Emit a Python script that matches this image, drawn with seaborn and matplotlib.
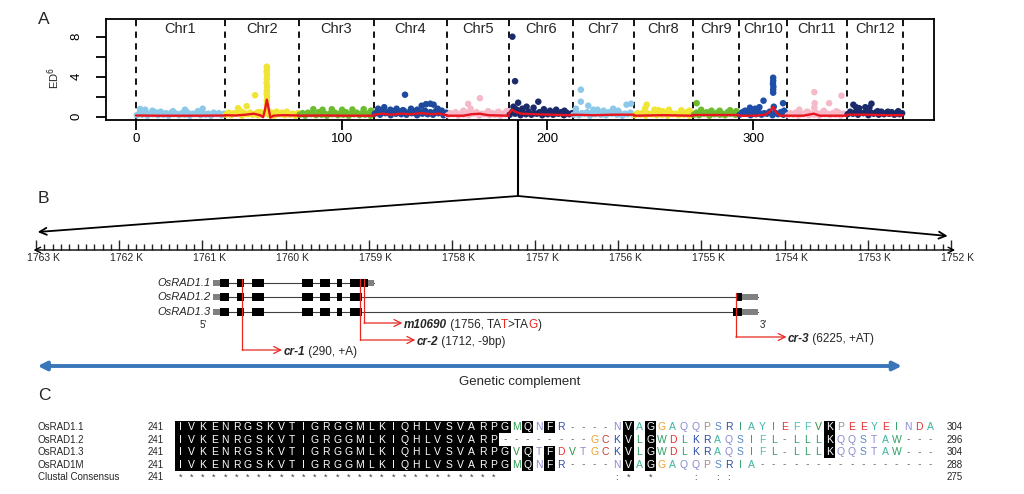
import matplotlib
matplotlib.use("Agg")
import matplotlib.pyplot as plt
import matplotlib.transforms as mtransforms
from matplotlib.patches import Rectangle
from matplotlib.ticker import MultipleLocator
import numpy as np
import pandas as pd
import seaborn as sns

# ---------------- Panel A data (ED^6 along the genome, Mb) ----------------
CHR_NAMES = [f"Chr{i}" for i in range(1, 13)]
CHR_LEN = [43.3, 35.9, 36.5, 35.5, 30.1, 31.1, 29.7, 28.7, 22.3, 23.4, 29.1, 27.3]
CHR_COLORS = ["#8CC8E8", "#F0E434", "#6CBC2E", "#1E4A9E", "#F5B9C8", "#1B2A6A",
              "#8CC8E8", "#F0E434", "#6CBC2E", "#1E4EA8", "#F5B9C8", "#1B2A6A"]

# dense background band of each chromosome (evenly spread along it)
BAND_VALUES = [
    [0.15, 0.35, 0.2, 0.4, 0.1, 0.3, 0.25, 0.45, 0.15, 0.3, 0.2, 0.35, 0.1, 0.4, 0.25, 0.3, 0.15,
     0.35, 0.2, 0.45, 0.1, 0.3, 0.25, 0.4, 0.15, 0.35, 0.2, 0.3, 0.1, 0.4, 0.25, 0.35, 0.15, 0.3],
    [0.2, 0.4, 0.15, 0.35, 0.3, 0.45, 0.1, 0.35, 0.25, 0.4, 0.2, 0.3, 0.15, 0.45, 0.3, 0.35, 0.2,
     0.4, 0.1, 0.3, 0.25, 0.4, 0.15, 0.35, 0.2, 0.3, 0.1, 0.35],
    [0.2, 0.35, 0.1, 0.4, 0.25, 0.3, 0.15, 0.45, 0.2, 0.35, 0.1, 0.3, 0.25, 0.4, 0.15, 0.35, 0.2,
     0.45, 0.1, 0.3, 0.25, 0.4, 0.15, 0.35, 0.2, 0.3, 0.1, 0.4],
    [0.3, 0.5, 0.2, 0.6, 0.35, 0.45, 0.15, 0.55, 0.3, 0.5, 0.25, 0.6, 0.2, 0.45, 0.35, 0.55, 0.15,
     0.5, 0.3, 0.6, 0.25, 0.45, 0.2, 0.55, 0.35, 0.5, 0.15, 0.4],
    [0.15, 0.35, 0.25, 0.45, 0.1, 0.3, 0.2, 0.4, 0.15, 0.35, 0.3, 0.45, 0.1, 0.3, 0.25, 0.4, 0.15,
     0.35, 0.2, 0.45, 0.1, 0.3, 0.25, 0.35],
    [0.2, 0.5, 0.3, 0.45, 0.15, 0.4, 0.25, 0.5, 0.2, 0.35, 0.3, 0.45, 0.15, 0.4, 0.25, 0.5, 0.2,
     0.35, 0.3, 0.45, 0.15, 0.4, 0.25, 0.35],
    [0.2, 0.4, 0.15, 0.35, 0.3, 0.45, 0.1, 0.35, 0.25, 0.4, 0.2, 0.3, 0.15, 0.45, 0.3, 0.35, 0.2,
     0.4, 0.1, 0.3, 0.25, 0.4, 0.2],
    [0.15, 0.35, 0.2, 0.4, 0.1, 0.3, 0.25, 0.45, 0.15, 0.3, 0.2, 0.35, 0.1, 0.4, 0.25, 0.3, 0.15,
     0.35, 0.2, 0.45, 0.1, 0.3],
    [0.2, 0.4, 0.15, 0.35, 0.3, 0.45, 0.1, 0.35, 0.25, 0.4, 0.2, 0.3, 0.15, 0.45, 0.3, 0.35, 0.2, 0.4],
    [0.2, 0.45, 0.3, 0.5, 0.15, 0.4, 0.25, 0.45, 0.2, 0.35, 0.3, 0.5, 0.15, 0.4, 0.25, 0.45, 0.2, 0.35],
    [0.15, 0.35, 0.2, 0.4, 0.1, 0.3, 0.25, 0.45, 0.15, 0.3, 0.2, 0.35, 0.1, 0.4, 0.25, 0.3, 0.15,
     0.35, 0.2, 0.45, 0.1, 0.3, 0.25],
    [0.25, 0.5, 0.3, 0.45, 0.2, 0.4, 0.35, 0.5, 0.15, 0.4, 0.3, 0.45, 0.2, 0.5, 0.25, 0.4, 0.3,
     0.45, 0.2, 0.4, 0.25, 0.35],
]

# points standing out of the band: (position in chromosome, ED^6)
OUTLIERS = [
    [(2, 0.78), (4.5, 0.7), (8, 0.6), (12, 0.5), (18, 0.55), (23.8, 0.7), (30, 0.55), (32.4, 0.8)],
    [(6.3, 0.85), (10.5, 1.05), (14.6, 2.15), (20.3, 5.0), (20.4, 4.8), (20.2, 4.5), (20.4, 4.2),
     (20.3, 3.8), (20.2, 3.4), (20.4, 3.0), (20.3, 2.6), (20.2, 2.3), (20.4, 2.0), (20.3, 1.6),
     (20.3, 1.2), (20.4, 0.8), (8, 0.5), (16, 0.45), (25, 0.5), (30, 0.5)],
    [(7, 0.75), (11.5, 0.7), (16, 0.75), (21, 0.7), (26, 0.72), (31.5, 0.75), (35, 0.6)],
    [(15.1, 2.2), (23.2, 1.1), (25.3, 1.25), (27.4, 1.3), (29.0, 1.2), (2, 0.8),
     (5, 0.95), (8, 0.7), (11, 0.8), (14, 0.65), (18, 0.8), (21, 0.7), (31, 0.8), (33, 0.6)],
    [(16, 1.85), (10.3, 1.28), (11.5, 0.8), (8, 0.6), (20, 0.55), (25, 0.5), (29, 0.55)],
    [(1.7, 8.0), (3.0, 3.55), (4.5, 1.4), (8.6, 1.0), (14.3, 1.5), (6.5, 0.8), (12, 0.9), (17, 0.75),
     (20, 0.6), (23, 0.7), (27, 0.6), (2.2, 1.0), (3.5, 0.75)],
    [(3.9, 2.7), (3.9, 1.5), (7.5, 1.1), (19.6, 0.8), (26.1, 1.2), (28.3, 1.3), (10, 0.7), (12, 0.7),
     (15, 0.6), (22, 0.6), (1.5, 0.8)],
    [(6.2, 1.2), (5.5, 0.85), (10, 0.7), (12, 0.65), (17, 0.7), (23, 0.65), (27, 0.6), (14, 0.55)],
    [(1.8, 1.35), (4, 0.7), (9, 0.6), (13, 0.6), (18, 0.65), (21, 0.55)],
    [(16.7, 3.9), (16.7, 3.6), (16.6, 3.3), (16.8, 3.0), (16.7, 2.7), (16.7, 2.4), (12, 1.6),
     (21.5, 1.35), (5.4, 0.9), (8, 0.8), (10, 0.95), (3, 0.6), (17, 1.0), (22, 0.6)],
    [(13.3, 2.45), (26.5, 2.1), (13.5, 1.35), (20.5, 1.35), (18, 0.6), (6, 0.7), (13.3, 0.9),
     (10, 0.5), (24, 0.55)],
    [(3.2, 1.2), (12, 1.3), (6, 0.85), (9, 0.95), (4.5, 0.95), (11, 0.9), (15, 0.55), (20, 0.5),
     (25, 0.55)],
]

# smoothed fit (red line): (position in chromosome, value)
FIT = [
    [(0, 0.12), (10, 0.1), (20, 0.1), (30, 0.1), (43.3, 0.12)],
    [(0, 0.15), (5, 0.12), (10, 0.2), (14, 0.3), (17, 0.15), (18.5, -0.05), (19.5, 0.8),
     (20.3, 1.7), (21.2, 0.8), (22, -0.1), (23.5, 0.1), (28, 0.15), (35.9, 0.12)],
    [(0, 0.1), (12, 0.12), (24, 0.1), (36.5, 0.1)],
    [(0, 0.2), (4, 0.3), (8, 0.2), (13, 0.3), (18, 0.25), (23, 0.35), (28, 0.25), (32, 0.3), (35.5, 0.15)],
    [(0, 0.1), (8, 0.1), (12, 0.25), (16, 0.3), (20, 0.15), (30.1, 0.1)],
    [(0, 0.3), (1.5, 0.7), (3, 0.5), (6, 0.3), (12, 0.25), (20, 0.2), (31.1, 0.15)],
    [(0, 0.2), (10, 0.15), (20, 0.2), (29.7, 0.2)],
    [(0, 0.1), (14, 0.15), (28.7, 0.1)],
    [(0, 0.15), (11, 0.15), (22.3, 0.15)],
    [(0, 0.1), (8, 0.1), (13, 0.2), (15, 0.5), (16.7, 1.0), (18.2, 0.4), (20, 0.1), (23.4, 0.1)],
    [(0, 0.1), (8, 0.1), (13, 0.3), (16, 0.1), (29.1, 0.1)],
    [(0, 0.2), (10, 0.2), (20, 0.15), (27.3, 0.15)],
]
ZOOM_POS = 185.7  # genome position expanded in panel B

# ---------------- Panel B data (gene model, kb / bp) ----------------
SCALE_KB = list(range(1763, 1751, -1))
GENE_START_KB = 1760.812
ISOFORMS = ["OsRAD1.1", "OsRAD1.2", "OsRAD1.3"]
ISO_EXONS = [
    [(24, 132), (228, 313), (409, 553), (1010, 1142), (1226, 1346), (1430, 1490), (1587, 1803)],
    [(24, 132), (228, 313), (409, 553), (1010, 1142), (1226, 1346), (1430, 1490), (1587, 1731), (6226, 6298)],
    [(24, 132), (228, 313), (409, 553), (1010, 1142), (1226, 1346), (1430, 1490), (1587, 1731), (6190, 6298)],
]
ISO_UTRS = [
    [(-60, 24), (1803, 1875)],
    [(-60, 24), (6298, 6490)],
    [(-60, 24), (6298, 6490)],
]
MUT_NAMES = ["cr-1", "m10690", "cr-2", "cr-3"]
MUT_BP = [290, 1756, 1712, 6225]
MUT_INFO = [" (290, +A)", " (1756, TAT>TAG)", " (1712, -9bp)", " (6225, +AT)"]
COMPLEMENT_KB = (1762.98, 1752.59)

# ---------------- Panel C data (protein alignment) ----------------
SEQ_NAMES = ["OsRAD1.1", "OsRAD1.2", "OsRAD1.3", "OsRAD1M"]
SEQS = [
    "IVKENRGSKVTIGRGGMLKIQHLVSVARPGMQNFR----NVAGGAQQPSRIAYIEFFVKPEEYEINDA",
    "IVKENRGSKVTIGRGGMLKIQHLVSVARP--------GCKVLGWDLKRAQSIFL-LLLKQQSTAW---",
    "IVKENRGSKVTIGRGGMLKIQHLVSVARPGVQTFDVTGCKVLGWDLKRAQSIFL-LLLKQQSTAW---",
    "IVKENRGSKVTIGRGGMLKIQHLVSVARPGMQNFR----NVAGGAQQPSRIA----------------",
]
CONSENSUS = "*" * 29 + " " * 10 + ":* *   : ::" + " " * 18
SEQ_START = [241, 241, 241, 241, 241]
SEQ_END = [304, 296, 304, 288, 275]
RES_COLORS = {
    "A": "#3DB39E", "G": "#EFA030", "Q": "#8A8AD0", "N": "#8A8AD0", "T": "#8A8AD0",
    "P": "#A08E84", "S": "#5A8AC6", "R": "#2A4CA8", "K": "#2A4CA8", "H": "#5A8AC6",
    "I": "#2E9E62", "L": "#2E9E62", "V": "#2E8B45", "M": "#2E9E4E", "W": "#2E9E62",
    "Y": "#3CB8A8", "F": "#4DBFB0", "E": "#E43030", "D": "#E43030", "C": "#C8383A",
    "-": "#707070",
}

sns.set_style("white")
plt.rcParams["font.family"] = ["Liberation Sans", "DejaVu Sans"]

W, H = 1024, 494
fig = plt.figure(figsize=(W / 100, H / 100), dpi=100)

# overlay in pixel coordinates for connectors and panel C
ov = fig.add_axes([0, 0, 1, 1])
ov.set_xlim(0, W)
ov.set_ylim(H, 0)
ov.axis("off")


def px_axes(left, top, right, bottom):
    return fig.add_axes([left / W, 1 - bottom / H, (right - left) / W, (bottom - top) / H])


def rich_text(ax, x, y, parts, **kw):
    renderer = fig.canvas.get_renderer()
    tr = ax.transData
    for s, props in parts:
        t = ax.text(x, y, s, transform=tr, **{**kw, **props})
        w = t.get_window_extent(renderer=renderer).width
        tr = mtransforms.offset_copy(t.get_transform(), x=w, units="dots")


# ---------------- Panel A ----------------
ax_a = px_axes(106, 19, 934, 120)
chr_start = np.concatenate([[0], np.cumsum(CHR_LEN)[:-1]])
chr_end = np.cumsum(CHR_LEN)

rows = []
fit_rows = []
for i, name in enumerate(CHR_NAMES):
    pos = np.linspace(0.4, CHR_LEN[i] - 0.4, len(BAND_VALUES[i]))
    for p, v in zip(pos, BAND_VALUES[i]):
        rows.append((name, chr_start[i] + p, v))
    for p, v in OUTLIERS[i]:
        rows.append((name, chr_start[i] + p, v))
    for p, v in FIT[i]:
        fit_rows.append((name, chr_start[i] + p, v))
df = pd.DataFrame(rows, columns=["chrom", "pos", "ed"])
df_fit = pd.DataFrame(fit_rows, columns=["chrom", "pos", "fit"])

sns.scatterplot(data=df, x="pos", y="ed", hue="chrom", palette=dict(zip(CHR_NAMES, CHR_COLORS)),
                s=22, linewidth=0, legend=False, ax=ax_a, zorder=2)
sns.lineplot(data=df_fit, x="pos", y="fit", units="chrom", estimator=None, sort=False,
             color="#E8141E", lw=1.7, ax=ax_a, zorder=3)

for b in np.concatenate([[0], chr_end]):
    ax_a.axvline(b, color="black", lw=1.3, ls=(0, (3.5, 3)), zorder=1)
lab_tr = mtransforms.blended_transform_factory(ax_a.transData, ax_a.transAxes)
for i, name in enumerate(CHR_NAMES):
    ax_a.text((chr_start[i] + chr_end[i]) / 2, 0.9, name, transform=lab_tr,
              ha="center", va="center", fontsize=10.5)

ax_a.set_xlim(-14.6, 388)
ax_a.set_ylim(-0.33, 9.77)
ax_a.set_xticks([0, 100, 200, 300])
ax_a.set_yticks([0, 2, 4, 6, 8])
ax_a.set_yticklabels(["0", "", "4", "", "8"], rotation=90, va="center")
ax_a.tick_params(axis="both", direction="out", length=7, width=1.3, labelsize=9.5,
                 left=True, bottom=True, colors="black")
ax_a.tick_params(axis="y", pad=10)
ax_a.tick_params(axis="x", pad=2)
ax_a.set_xlabel("")
ax_a.set_ylabel("ED$^6$", fontsize=8)
ax_a.yaxis.set_label_coords(-0.053, 0.42)
for sp in ax_a.spines.values():
    sp.set_visible(True)
    sp.set_color("black")
    sp.set_linewidth(1.3)

# ---------------- Panel B: kb scale ----------------
ax_s = px_axes(36, 240, 951, 250)
ax_s.set_xlim(SCALE_KB[0], SCALE_KB[-1])
ax_s.set_ylim(0, 1)
for sp in ax_s.spines.values():
    sp.set_visible(False)
ax_s.set_yticks([])
ax_s.set_xticks(SCALE_KB)
ax_s.xaxis.set_minor_locator(MultipleLocator(0.1))
ax_s.set_xticklabels([])
ax_s.tick_params(axis="x", which="major", direction="in", length=7, width=1, bottom=True)
ax_s.tick_params(axis="x", which="minor", direction="in", length=4, width=1, bottom=True)
ax_s.annotate("", xy=(SCALE_KB[-1] - 0.05, 0), xytext=(SCALE_KB[0] + 0.03, 0),
              arrowprops=dict(arrowstyle="<->,head_length=0.4,head_width=0.2", lw=1,
                              color="black", shrinkA=0, shrinkB=0), annotation_clip=False)
for k in SCALE_KB:
    ax_s.annotate(f"{k} K", xy=(k, 0), xytext=(5, -2.5), textcoords="offset points",
                  ha="center", va="top", fontsize=7.5, annotation_clip=False)

# ---------------- Panel B: gene models ----------------
ax_g = px_axes(36, 0, 951, H)
ax_g.set_xlim(SCALE_KB[0], SCALE_KB[-1])
ax_g.set_ylim(H, 0)
ax_g.axis("off")


def kb(bp):
    return GENE_START_KB - bp / 1000.0


ISO_Y = [283, 297, 312]
for name, exons, utrs, y in zip(ISOFORMS, ISO_EXONS, ISO_UTRS, ISO_Y):
    x0 = min(u[0] for u in utrs)
    x1 = max(u[1] for u in utrs)
    ax_g.plot([kb(x0), kb(x1)], [y, y], color="#404040", lw=0.8, zorder=1)
    for a, b in utrs:
        ax_g.add_patch(Rectangle((kb(a), y - 3), kb(b) - kb(a), 6, color="#808080", lw=0, zorder=2))
    for a, b in exons:
        ax_g.add_patch(Rectangle((kb(a), y - 4), kb(b) - kb(a), 8, color="black", lw=0, zorder=3))
    ax_g.annotate(name, xy=(kb(x0), y), xytext=(-2, 0), textcoords="offset points",
                  ha="right", va="center", fontsize=8, fontstyle="italic")
ax_g.annotate("5'", xy=(kb(-60), 325), xytext=(-7, 0), textcoords="offset points",
              ha="center", va="center", fontsize=7)
ax_g.annotate("3'", xy=(kb(6490), 325), xytext=(4, 0), textcoords="offset points",
              ha="center", va="center", fontsize=7)

RED = "#E8281E"
MUT_Y0 = [279, 279, 279, 293]
MUT_Y1 = [350, 323, 340, 337]
MUT_ELBOW = [0.48, 0.46, 0.66, 0.61]
for name, bp, info, y0, y1, el in zip(MUT_NAMES, MUT_BP, MUT_INFO, MUT_Y0, MUT_Y1, MUT_ELBOW):
    x = kb(bp)
    ax_g.plot([x, x], [y0, y1], color=RED, lw=0.9, zorder=4)
    ax_g.annotate("", xy=(x - el, y1), xytext=(x, y1),
                  arrowprops=dict(arrowstyle="->,head_length=0.5,head_width=0.25", color=RED,
                                  lw=0.9, shrinkA=0, shrinkB=0), zorder=4)
    if name == "m10690":
        parts = [(name, dict(fontweight="bold", fontstyle="italic")),
                 (" (1756, TA", {}), ("T", dict(color=RED)), (">TA", {}),
                 ("G", dict(color=RED)), (")", {})]
    else:
        parts = [(name, dict(fontweight="bold", fontstyle="italic")), (info, {})]
    rich_text(ax_g, x - el - 0.015, y1, parts, fontsize=8.5, va="center_baseline", ha="left")

ax_g.annotate("", xy=(COMPLEMENT_KB[1], 366), xytext=(COMPLEMENT_KB[0], 366),
              arrowprops=dict(arrowstyle="<|-|>,head_length=0.5,head_width=0.25", color="#3A76BA",
                              lw=2.8, shrinkA=0, shrinkB=0))
ax_g.text(1757.18, 382, "Genetic complement", ha="center", va="center", fontsize=9.5)

# ---------------- connectors A -> B ----------------
def to_ov(ax, x, y):
    d = ax.transData.transform((x, y))
    return ov.transData.inverted().transform(d)


zx, zy = to_ov(ax_a, ZOOM_POS, ax_a.get_ylim()[0])
lx, _ = to_ov(ax_s, COMPLEMENT_KB[0], 0)
rx, _ = to_ov(ax_s, 1752.04, 0)
ov.plot([zx, zx], [zy, 196], color="black", lw=1.5)
for ex, ey in [(lx, 232), (rx, 236)]:
    ov.annotate("", xy=(ex, ey), xytext=(zx, 196),
                arrowprops=dict(arrowstyle="->,head_length=0.5,head_width=0.25", lw=1.3,
                                color="black", shrinkA=0, shrinkB=0))

# ---------------- Panel C ----------------
COL0, COLW = 180.5, 11.19
ROW_Y = [427, 439.5, 452, 464.5, 477]
for r, (name, seq) in enumerate(zip(SEQ_NAMES, SEQS)):
    y = ROW_Y[r]
    ov.text(38, y, name, ha="left", va="center", fontsize=7)
    ov.text(148, y, str(SEQ_START[r]), ha="left", va="center", fontsize=7)
    ov.text(947, y, str(SEQ_END[r]), ha="left", va="center", fontsize=7)
    for c, ch in enumerate(seq):
        x = COL0 + c * COLW
        column = [s[c] for s in SEQS]
        black = ch != "-" and column.count(ch) >= 3
        if black:
            ov.add_patch(Rectangle((x - COLW / 2, y - 6.25), COLW, 12.5, color="black", lw=0))
            ov.text(x, y, ch, ha="center", va="center", fontsize=7.5, color="white")
        else:
            ov.text(x, y, ch, ha="center", va="center", fontsize=7.5, color=RES_COLORS[ch])
y = ROW_Y[4]
ov.text(38, y, "Clustal Consensus", ha="left", va="center", fontsize=7)
ov.text(148, y, str(SEQ_START[4]), ha="left", va="center", fontsize=7)
ov.text(947, y, str(SEQ_END[4]), ha="left", va="center", fontsize=7)
for c, ch in enumerate(CONSENSUS):
    if ch != " ":
        ov.text(COL0 + c * COLW, y, ch, ha="center", va="center", fontsize=6.5, color="#404040")

# panel letters
for letter, (x, y) in zip("ABC", [(38, 20), (38, 198), (38, 395)]):
    ov.text(x, y, letter, ha="left", va="center", fontsize=12.5)

fig.savefig("out.png", dpi=100, facecolor="white")
